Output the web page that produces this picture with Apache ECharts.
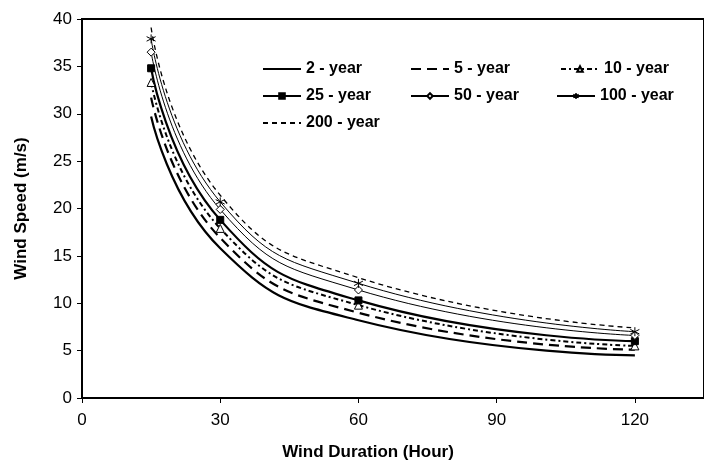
<!DOCTYPE html>
<html>
<head>
<meta charset="utf-8">
<script src="https://cdn.jsdelivr.net/npm/echarts@6/dist/echarts.min.js"></script>
<style>
  html, body { margin: 0; padding: 0; background: #fff; }
  #main { width: 704px; height: 466px; }
</style>
</head>
<body>
<div id="main"></div>
<script>
// wind duration (hours) where the curves were computed
var durations = [15, 30, 60, 120];

// wind speed (m/s) per return period
var year2 = [29.7, 15.8, 8.2, 4.5];
var year5 = [31.7, 16.9, 9.0, 5.1];
var year10 = [33.3, 17.9, 9.8, 5.5];
var year25 = [34.8, 18.8, 10.3, 6.0];
var year50 = [36.5, 19.9, 11.4, 6.6];
var year100 = [37.9, 20.7, 12.1, 7.0];
var year200 = [39.1, 21.4, 12.7, 7.4];

var names = ['2 - year', '5 - year', '10 - year', '25 - year', '50 - year', '100 - year', '200 - year'];
var xTicks = [0, 30, 60, 90, 120];

var asterisk = 'path://M0,-10L0,10M-8.7,-5L8.7,5M-8.7,5L8.7,-5';

function pairs(ys) {
    return durations.map(function (d, i) { return [d, ys[i]]; });
}

function line(name, ys, lineStyle, marker) {
    var s = {
        name: name,
        type: 'line',
        smooth: 0.5,
        data: pairs(ys),
        lineStyle: Object.assign({ color: '#000' }, lineStyle),
        itemStyle: { color: '#000' },
        symbol: 'none',
        emphasis: { disabled: true },
        z: 2
    };
    if (marker) {
        s.symbol = marker.symbol;
        s.symbolSize = marker.size;
        s.showSymbol = true;
        s.itemStyle = marker.itemStyle;
        s.z = 3;
    }
    return s;
}

var chart = echarts.init(document.getElementById('main'));

// one legend per entry, laid out in three columns
var legendPos = [
    [262, 61], [410, 61], [560, 61],
    [262, 88], [410, 88], [556, 88],
    [262, 115]
];
var withMarker = [false, false, true, true, true, true, false];
var legends = names.map(function (n, i) {
    return {
        data: [n],
        left: legendPos[i][0],
        top: legendPos[i][1],
        itemWidth: 38,
        itemHeight: 7,
        itemGap: 5,
        padding: 0,
        itemStyle: withMarker[i] ? {} : { opacity: 0 },
        textStyle: { fontFamily: 'Liberation Sans', fontWeight: 'bold', fontSize: 16, color: '#000', padding: [2, 0, 0, 0] }
    };
});

var option = {
    animation: false,
    backgroundColor: '#fff',
    legend: legends,
    grid: {
        left: 82,
        right: -8,
        top: 19,
        bottom: 66,
        show: true,
        borderColor: '#000',
        borderWidth: 2,
        containLabel: false
    },
    xAxis: {
        type: 'value',
        min: 0,
        max: 135,
        interval: 30,
        name: 'Wind Duration (Hour)',
        nameLocation: 'middle',
        nameGap: 46,
        nameTextStyle: { fontFamily: 'Liberation Sans', fontWeight: 'bold', fontSize: 17, color: '#000', padding: [0, 50, 0, 0] },
        axisLine: { onZero: false, lineStyle: { color: '#000', width: 2 } },
        axisTick: { show: true, length: 5, lineStyle: { color: '#000' }, customValues: xTicks },
        axisLabel: { fontFamily: 'Liberation Sans', fontSize: 17, color: '#000', margin: 14, customValues: xTicks },
        splitLine: { show: false }
    },
    yAxis: {
        type: 'value',
        min: 0,
        max: 40,
        interval: 5,
        name: 'Wind Speed (m/s)',
        nameLocation: 'middle',
        nameGap: 52,
        nameTextStyle: { fontFamily: 'Liberation Sans', fontWeight: 'bold', fontSize: 17, color: '#000' },
        axisLine: { show: true, lineStyle: { color: '#000', width: 2 } },
        axisTick: { show: true, length: 5, lineStyle: { color: '#000' } },
        axisLabel: { fontFamily: 'Liberation Sans', fontSize: 17, color: '#000', margin: 10 },
        splitLine: { show: false }
    },
    series: [
        line(names[0], year2, { width: 2.2, type: 'solid' }),
        line(names[1], year5, { width: 2.2, type: [10, 6] }),
        line(names[2], year10, { width: 2, type: [5, 3, 2, 3] },
            { symbol: 'triangle', size: 8, itemStyle: { color: '#fff', borderColor: '#000', borderWidth: 1 } }),
        line(names[3], year25, { width: 2.2, type: 'solid' },
            { symbol: 'rect', size: 7, itemStyle: { color: '#000', borderColor: '#000', borderWidth: 1 } }),
        line(names[4], year50, { width: 1, type: 'solid' },
            { symbol: 'diamond', size: 8, itemStyle: { color: '#fff', borderColor: '#000', borderWidth: 1 } }),
        line(names[5], year100, { width: 1, type: 'solid' },
            { symbol: asterisk, size: 9, itemStyle: { color: '#000', borderColor: '#000', borderWidth: 1 } }),
        line(names[6], year200, { width: 1.3, type: [5, 4] })
    ]
};

chart.setOption(option);
</script>
</body>
</html>
